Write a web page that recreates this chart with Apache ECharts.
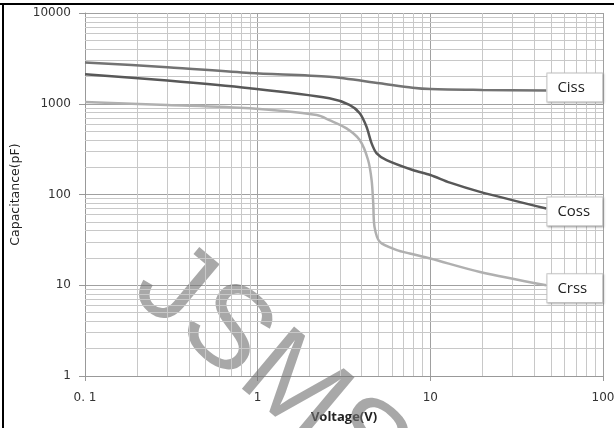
<!DOCTYPE html>
<html>
<head>
<meta charset="utf-8">
<script src="https://cdn.jsdelivr.net/npm/echarts@6/dist/echarts.min.js"></script>
<style>
  html, body { margin: 0; padding: 0; background: #fff; }
  #chart { width: 614px; height: 428px; }
</style>
</head>
<body>
<div id="chart"></div>
<script>
// values (voltage V, capacitance pF)
const cissV = [0.1, 0.3, 0.9, 2.6, 5.1, 7.9, 10, 20, 47];
const cissC = [2850, 2530, 2180, 1985, 1680, 1500, 1450, 1420, 1400];

const cossV = [0.1, 0.3, 0.9, 2.6, 3.4, 3.9, 4.27, 4.57, 4.89, 5.58, 7.9, 10, 13, 19.4, 47];
const cossC = [2120, 1800, 1480, 1150, 970, 785, 557, 366, 284, 239, 186, 164, 135, 107, 70];

const crssV = [0.1, 0.3, 0.9, 2.2, 2.6, 3.27, 3.9, 4.36, 4.57, 4.67, 4.75, 5.1, 6.4, 7.6, 10, 19.4, 47];
const crssC = [1045, 970, 890, 750, 661, 535, 398, 240, 144, 80, 44, 30, 24.4, 22.4, 19.7, 14, 10];

const xTicks = [0.1, 1, 10, 100];
const yTicks = [1, 10, 100, 1000, 10000];

const pairs = (xs, ys) => xs.map((x, i) => [x, ys[i]]);

// minor grid positions (2..9 within each decade)
const minorX = [];
for (let d = 0; d < xTicks.length - 1; d++) {
  for (let k = 2; k <= 9; k++) minorX.push(+(xTicks[d] * k).toPrecision(3));
}
const minorY = [];
for (let d = 0; d < yTicks.length - 1; d++) {
  for (let k = 2; k <= 9; k++) minorY.push(yTicks[d] * k);
}

const chart = echarts.init(document.getElementById('chart'));

function labelBox(dy) {
  return {
    show: true,
    formatter: '{a}',
    distance: 1,
    offset: [0, dy],
    color: '#222',
    fontFamily: 'Open Sans',
    fontSize: 15,
    lineHeight: 18,
    width: 35,
    padding: [5, 10],
    backgroundColor: '#fff',
    borderColor: '#c8c8c8',
    borderWidth: 1,
    shadowColor: 'rgba(0,0,0,0.2)',
    shadowBlur: 2,
    shadowOffsetX: 1,
    shadowOffsetY: 1
  };
}

function curve(name, xs, ys, color, dy) {
  return {
    name: name,
    type: 'line',
    data: pairs(xs, ys),
    smooth: 0.3,
    showSymbol: false,
    lineStyle: { color: color, width: 2.5 },
    endLabel: labelBox(dy),
    z: 5
  };
}

const option = {
  animation: false,
  grid: { left: 85, right: 11, top: 13, bottom: 52, outerBoundsMode: 'none', containLabel: false },
  xAxis: {
    type: 'log',
    logBase: 10,
    min: 0.1,
    max: 100,
    name: 'Voltage(V)',
    nameLocation: 'middle',
    nameGap: 35,
    nameTextStyle: { fontFamily: 'Open Sans', fontSize: 13, fontWeight: 'bold', color: '#222' },
    axisLine: { lineStyle: { color: '#999' } },
    axisTick: { show: true, length: 5, lineStyle: { color: '#999' } },
    axisLabel: {
      margin: 16,
      fontFamily: 'DejaVu Sans',
      fontSize: 12,
      color: '#333',
      formatter: v => (v < 1 ? '0. 1' : String(v))
    },
    splitLine: { lineStyle: { color: '#a0a0a0', width: 1 } }
  },
  yAxis: {
    type: 'log',
    logBase: 10,
    min: 1,
    max: 10000,
    name: 'Capacitance(pF)',
    nameLocation: 'middle',
    nameGap: 56,
    nameTextStyle: { fontFamily: 'DejaVu Sans', fontSize: 12.5, color: '#222' },
    axisLine: { show: true, lineStyle: { color: '#999' } },
    axisTick: { show: true, length: 6, lineStyle: { color: '#999' } },
    axisLabel: { margin: 14, fontFamily: 'DejaVu Sans', fontSize: 12, color: '#333', formatter: v => String(v) },
    splitLine: { lineStyle: { color: '#a0a0a0', width: 1 } }
  },
  graphic: [
    { type: 'line', shape: { x1: 0, y1: 4, x2: 614, y2: 4 }, style: { stroke: '#000', lineWidth: 2 } },
    { type: 'line', shape: { x1: 3, y1: 4, x2: 3, y2: 428 }, style: { stroke: '#000', lineWidth: 2 } },
    {
      type: 'text',
      x: 150,
      y: 269,
      rotation: -40 * Math.PI / 180,
      z: 3,
      style: {
        text: 'JSMSEMI',
        fontFamily: 'Liberation Sans',
        fontSize: 118,
        fill: 'rgba(115,115,115,0.62)',
        textAlign: 'left',
        textVerticalAlign: 'middle'
      }
    }
  ],
  series: [
    {
      name: 'grid',
      type: 'line',
      data: [],
      silent: true,
      markLine: {
        silent: true,
        symbol: 'none',
        animation: false,
        label: { show: false },
        lineStyle: { color: '#c8c8c8', width: 1, type: 'solid' },
        data: minorX.map(v => ({ xAxis: v })).concat(minorY.map(v => ({ yAxis: v })))
      },
      z: 1
    },
    curve('Ciss', cissV, cissC, '#737373', -3),
    curve('Coss', cossV, cossC, '#585858', 3),
    curve('Crss', crssV, crssC, '#b0b0b0', 3)
  ]
};

chart.setOption(option);
</script>
</body>
</html>
